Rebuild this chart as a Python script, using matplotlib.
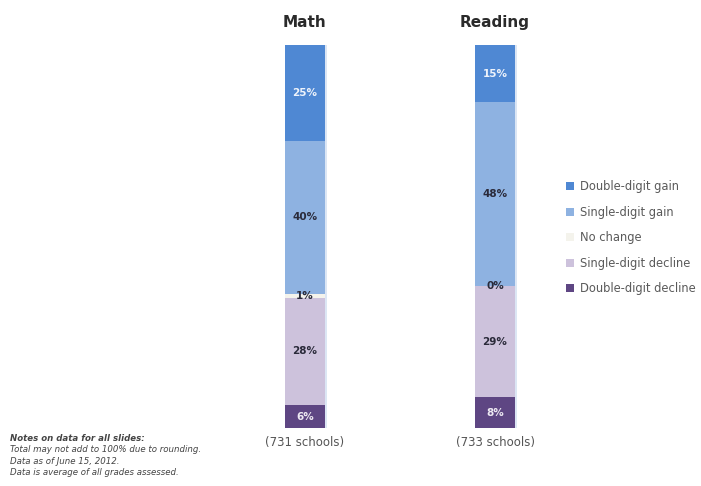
import matplotlib.pyplot as plt
import numpy as np

subjects = ["Math", "Reading"]
school_counts = ["(731 schools)", "(733 schools)"]
categories = ["Double-digit gain", "Single-digit gain", "No change",
              "Single-digit decline", "Double-digit decline"]
# percent of schools, top to bottom
math_vals = [25, 40, 1, 28, 6]
reading_vals = [15, 48, 0, 29, 8]
notes = ["Notes on data for all slides:",
         "Total may not add to 100% due to rounding.",
         "Data as of June 15, 2012.",
         "Data is average of all grades assessed."]

colors = ["#4F88D3", "#8EB2E1", "#F4F3EC", "#CDC2DC", "#5E4683"]
label_colors = ["#EEF3FB", "#2a2a3a", "#2a2a3a", "#2a2a3a", "#EEEAF3"]


def main():
    fig = plt.figure(figsize=(7.01, 4.86), dpi=100)
    ax = fig.add_axes([210 / 701, 58 / 486, 380 / 701, 383 / 486])
    ax.set_xlim(-0.5, 1.5)
    ax.set_ylim(0, 100)
    ax.axis("off")

    data = np.array([math_vals, reading_vals])  # rows = subjects
    x = np.arange(len(subjects))
    width = 0.21
    bottoms = np.zeros(len(subjects))
    # stack from the bottom (last category) up
    for i in range(len(categories) - 1, -1, -1):
        vals = data[:, i]
        ax.bar(x, vals, width, bottom=bottoms, color=colors[i],
               edgecolor="none", label=categories[i])
        for j in range(len(subjects)):
            ax.text(x[j], bottoms[j] + vals[j] / 2, f"{vals[j]}%",
                    ha="center", va="center", fontsize=7.5, weight="bold",
                    color=label_colors[i])
        bottoms += vals
    # light edge on the right side of each bar
    for j in range(len(subjects)):
        ax.bar(x[j] + width / 2 + 0.006, bottoms[j], 0.012,
               color="#DCE6F4", edgecolor="none")

    for j in range(len(subjects)):
        ax.text(x[j], 106, subjects[j], ha="center", va="center",
                fontsize=11, weight="semibold", color="#2a2a2a",
                clip_on=False)
        ax.text(x[j], -3.8, school_counts[j], ha="center", va="center",
                fontsize=8.5, color="#555555", clip_on=False)

    handles, labels = ax.get_legend_handles_labels()
    fig.legend(handles[::-1], labels[::-1], loc="upper left",
               bbox_to_anchor=(556 / 701, 1 - 170 / 486), frameon=False,
               fontsize=8.3, labelcolor="#5a5a5a", handlelength=0.7,
               handleheight=0.7, labelspacing=1.08, handletextpad=0.5)

    for k, line in enumerate(notes):
        fig.text(10 / 701, 1 - (438 + 11.5 * k) / 486, line, fontsize=6.2,
                 style="italic", color="#444444",
                 weight="bold" if k == 0 else "normal", va="center")

    fig.savefig("out.png", dpi=100)


if __name__ == '__main__':
    main()
